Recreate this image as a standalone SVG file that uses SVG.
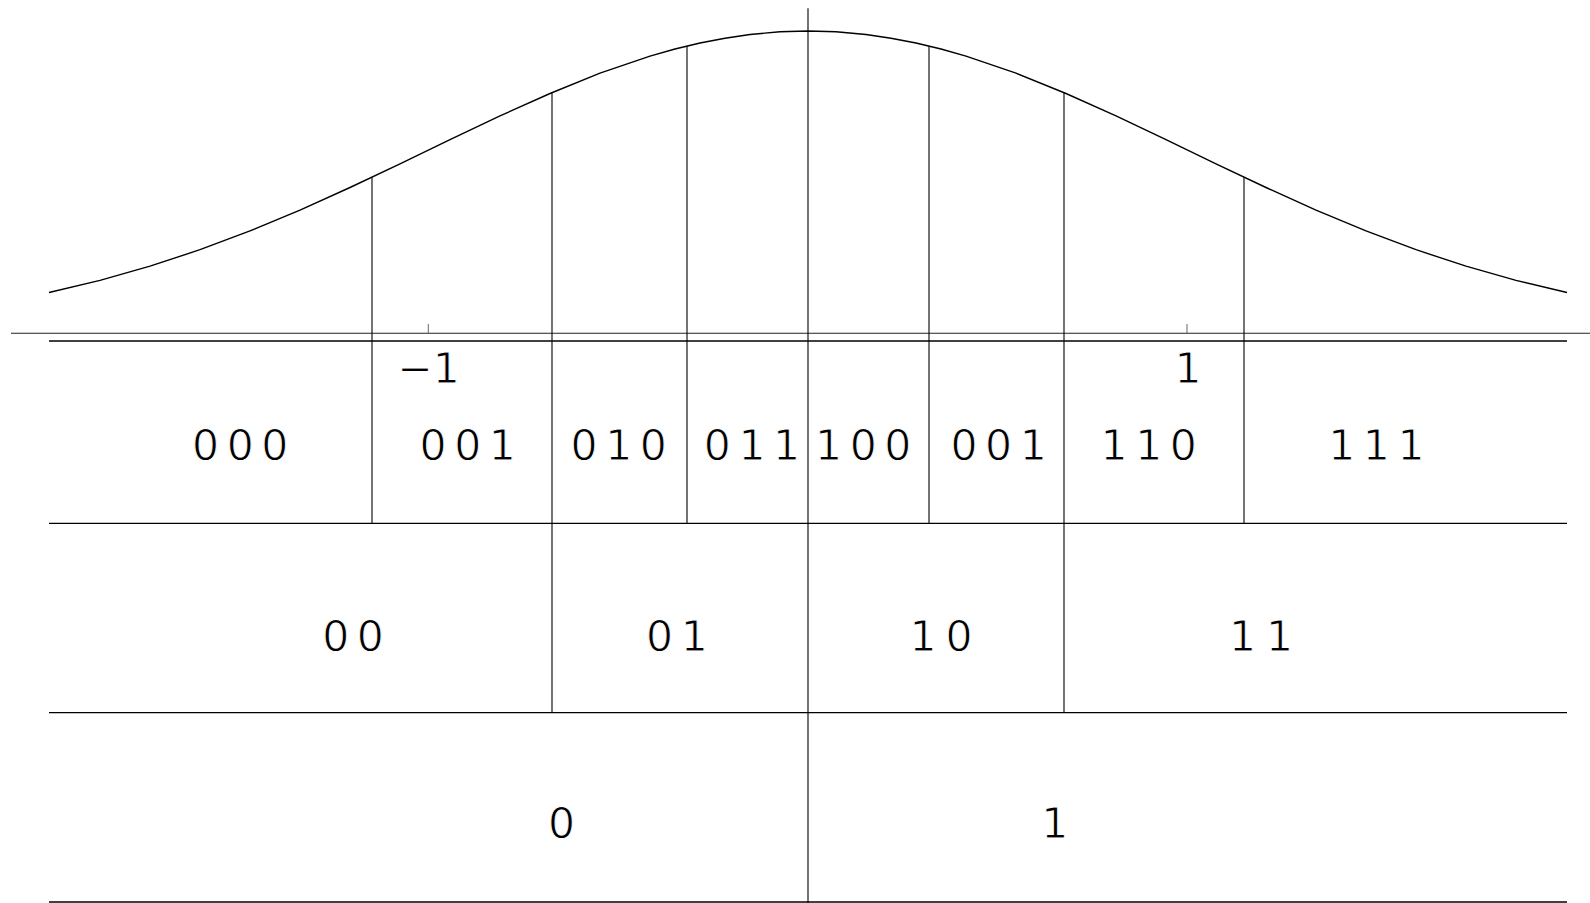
<svg xmlns="http://www.w3.org/2000/svg" width="1590" height="903" viewBox="0 0 1590 903">
<style>
.ln{stroke:#000;stroke-width:1.3;fill:none}
.vl{stroke:#000;stroke-width:1.1;fill:none}
.ax{stroke:#222;stroke-width:1.1;fill:none}
.tk{stroke:#666;stroke-width:1;fill:none}
.crv{stroke:#000;stroke-width:1.4;fill:none;stroke-linejoin:round}
.lab,.tl{font-family:"DejaVu Sans",sans-serif;font-size:42.5px;fill:#000;stroke:#fff;stroke-width:0.9px;paint-order:fill stroke}
.lab{letter-spacing:7.6px}
</style>
<rect width="1590" height="903" fill="#fff"/>
<g id="curve">
<polyline class="crv" points="49,292.5 100,280.4 150,266.2 200,249.7 250,230.9 300,210.1 350,187.5 400,163.8 450,139.7 500,115.9 550,93.5 600,73.2 650,56.1 675,49 700,43 725,38.2 750,34.5 780,31.8 808,31 836,31.8 866,34.5 891,38.2 916,43 941,49 966,56.1 1016,73.2 1066,93.5 1116,115.9 1166,139.7 1216,163.8 1266,187.5 1316,210.1 1366,230.9 1416,249.7 1466,266.2 1516,280.4 1567,292.5"/>
</g>
<g id="axis">
<line class="ax" x1="11" y1="333.3" x2="1590" y2="333.3"/>
<line class="tk" x1="428.3" y1="324" x2="428.3" y2="333.3"/>
<line class="tk" x1="1187" y1="324" x2="1187" y2="333.3"/>
<text class="tl" x="397.2" y="383.3">−1</text>
<text class="tl" x="1174.6" y="383.3">1</text>
</g>
<g id="connectors">
<line class="ln" x1="49" y1="341" x2="1567" y2="341"/>
<line class="ln" x1="49" y1="523.3" x2="1567" y2="523.3"/>
<line class="ln" x1="49" y1="712.7" x2="1567" y2="712.7"/>
<line class="ln" x1="49" y1="902" x2="1567" y2="902"/>
<line class="vl" x1="808" y1="8.3" x2="808" y2="903"/>
<line class="vl" x1="372" y1="177.2" x2="372" y2="523.3"/>
<line class="vl" x1="1244" y1="177.2" x2="1244" y2="523.3"/>
<line class="vl" x1="552" y1="92.6" x2="552" y2="712.7"/>
<line class="vl" x1="1064" y1="92.6" x2="1064" y2="712.7"/>
<line class="vl" x1="687" y1="46" x2="687" y2="523.3"/>
<line class="vl" x1="929" y1="46" x2="929" y2="523.3"/>
</g>
<g id="row3bit">
<g id="c000"><text class="lab" x="192" y="460">000</text></g>
<g id="c001a"><text class="lab" x="419.5" y="460">001</text></g>
<g id="c010"><text class="lab" x="570.6" y="460">010</text></g>
<g id="c011"><text class="lab" x="703.8" y="460">011</text></g>
<g id="c100"><text class="lab" x="815" y="460">100</text></g>
<g id="c001b"><text class="lab" x="950.4" y="460">001</text></g>
<g id="c110"><text class="lab" x="1100.6" y="460">110</text></g>
<g id="c111"><text class="lab" x="1328.2" y="460">111</text></g>
</g>
<g id="row2bit">
<g id="c00"><text class="lab" x="322.2" y="650.5">00</text></g>
<g id="c01"><text class="lab" x="646" y="650.5">01</text></g>
<g id="c10"><text class="lab" x="909.4" y="650.5" style="letter-spacing:9px">10</text></g>
<g id="c11"><text class="lab" x="1229" y="650.5" style="letter-spacing:10px">11</text></g>
</g>
<g id="row1bit">
<g id="c0"><text class="lab" x="547.9" y="838">0</text></g>
<g id="c1"><text class="lab" x="1041.3" y="838">1</text></g>
</g>
</svg>
